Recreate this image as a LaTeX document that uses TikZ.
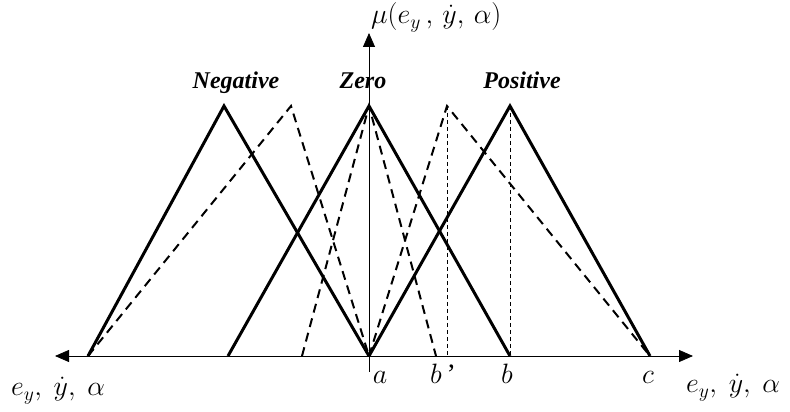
\RequirePackage{fix-cm}
\documentclass[tikz,border=0pt]{standalone}
\usepackage{fontspec}
\setmainfont{Liberation Serif}
\usetikzlibrary{arrows.meta}

\begin{document}
\begin{tikzpicture}[
  x=1pt, y=1pt,
  >={Triangle[length=14pt, width=12pt]},
  axis/.style={->, line width=0.8pt},
  mf/.style={line width=3pt, line join=miter},
  mfd/.style={line width=2pt, dash pattern=on 9pt off 6pt},
  guide/.style={line width=0.8pt, dash pattern=on 4pt off 3pt},
  setlab/.style={font=\fontsize{24}{26}\selectfont\bfseries\itshape, inner sep=0pt, anchor=base},
  axlab/.style={font=\fontsize{28}{30}\selectfont, inner sep=0pt}
]
\useasboundingbox (0,-56) rectangle (790,356);
\def\H{250}
% axes
\coordinate (o)  at (369,0);
\coordinate (xl) at (55,0);
\coordinate (xr) at (693,0);
\coordinate (yb) at (369,-16);
\coordinate (yt) at (369,323);
\draw[axis] (o) -- (xl);
\draw[axis] (o) -- (xr);
\draw[axis] (yb) -- (yt);
% membership functions, solid
\foreach \l/\m/\r in {88/224/369, 228/369/510, 369/510/650}
  \draw[mf] (\l,0) -- (\m,\H) -- (\r,0);
% membership functions, dashed
\foreach \l/\m/\r in {88/291/369, 302/369/436, 369/447/650}
  \draw[mfd] (\l,0) -- (\m,\H) -- (\r,0);
% guides
\draw[guide] (447,\H) -- (447,0);
\draw[guide] (510,\H) -- (510,0);
% set names
\node[setlab] (neg)  at (236,267) {Negative};
\node[setlab] (zero) at (363,267) {Zero};
\node[setlab] (pos)  at (522,267) {Positive};
% axis labels
\node[axlab, anchor=base west] (mu)    at (371,332) {$\mu(e_y\,,\,\dot y,\,\alpha)$};
\node[axlab, anchor=base west] (xlabr) at (686,-37) {$e_y,\ \dot y,\ \alpha$};
\node[axlab, anchor=base west] (xlabl) at (11,-40)  {$e_y,\ \dot y,\ \alpha$};
\node[axlab, anchor=base] (la)  at (380,-28) {$a$};
\node[axlab, anchor=base] (lbp) at (443,-28) {$b\,$’};
\node[axlab, anchor=base] (lb)  at (507,-28) {$b$};
\node[axlab, anchor=base] (lc)  at (648,-28) {$c$};
\end{tikzpicture}
\end{document}
